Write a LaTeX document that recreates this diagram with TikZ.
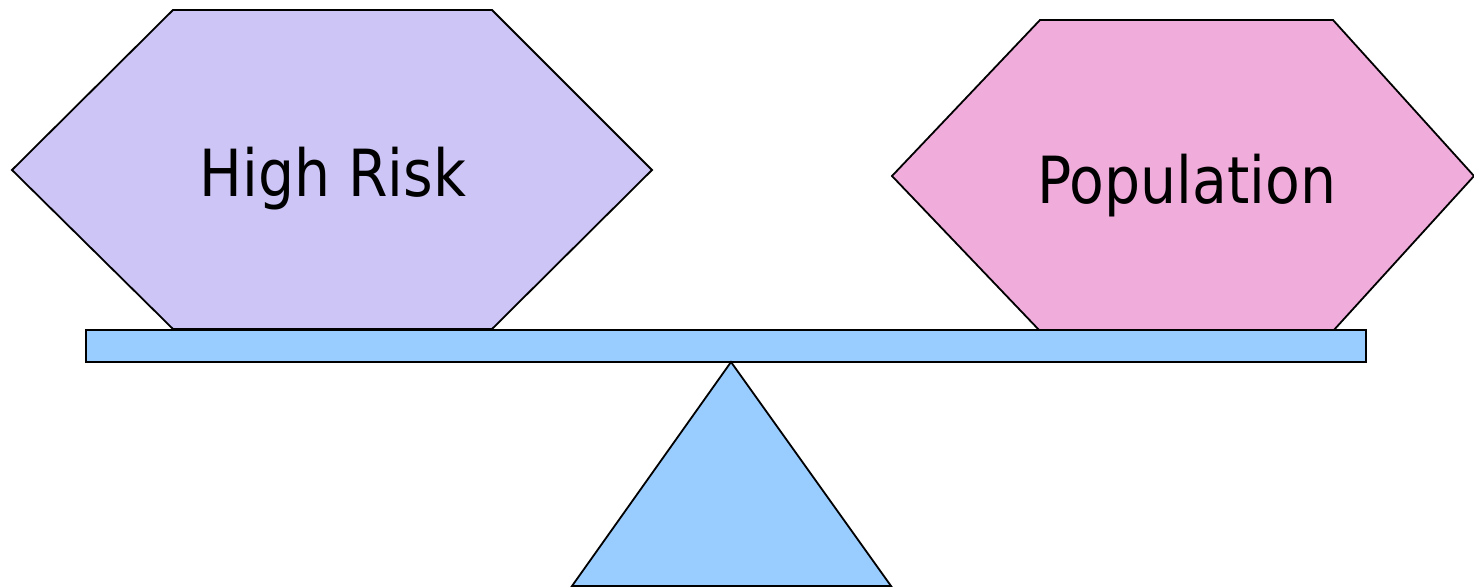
\documentclass[tikz,border=0pt]{standalone}
\usepackage{fontspec}
\newfontfamily\labelfont[FakeStretch=0.875]{DejaVu Sans}
\definecolor{lavender}{HTML}{CCC5F5}
\definecolor{pinkfill}{HTML}{F0ADDC}
\definecolor{beamblue}{HTML}{99CCFF}
\tikzset{
  outline/.style={draw=black, line width=1.8pt, line join=miter},
  label/.style={font=\labelfont\fontsize{65}{72}\selectfont, inner sep=0pt, anchor=base}
}
\begin{document}
\begin{tikzpicture}[x=1pt, y=-1pt]
\useasboundingbox (0,0) rectangle (1474,586);
% left weight
\draw[outline, fill=lavender] (173,10) -- (492,10) -- (652,170) -- (492,329) -- (173,329) -- (12,170) -- cycle;
% right weight
\draw[outline, fill=pinkfill] (1040,20) -- (1333,20) -- (1474,176) -- (1333,331) -- (1040,331) -- (892,176) -- cycle;
% beam
\draw[outline, line width=2.2pt, fill=beamblue] (86,330) rectangle (1366,362);
% fulcrum
\draw[outline, fill=beamblue] (731,362) -- (891,586) -- (572,586) -- cycle;
% labels
\node[label] (highrisk) at (333,196) {High Risk};
\node[label] (population) at (1187,203) {Population};
\end{tikzpicture}
\end{document}
